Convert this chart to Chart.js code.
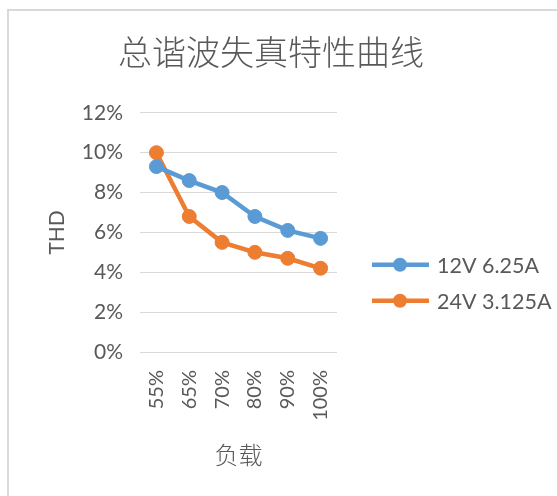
<!DOCTYPE html>
<html>
<head>
<meta charset="utf-8">
<script src="https://cdn.jsdelivr.net/npm/chart.js@4"></script>
<style>
  html, body { margin: 0; padding: 0; background: #fff; }
  #wrap { position: relative; width: 557px; height: 496px; overflow: hidden; }
  #frame { position: absolute; left: 7px; top: 9px; width: 600px; height: 600px;
           border-left: 2px solid #d9d9d9; border-top: 2px solid #d9d9d9; }
  #c { position: absolute; left: 0; top: 0; }
</style>
</head>
<body>
<div id="wrap">
  <div id="frame"></div>
  <canvas id="c" width="557" height="496"></canvas>
</div>
<script>
const categories = ['55%', '65%', '70%', '80%', '90%', '100%'];
const series12V = [9.3, 8.6, 8.0, 6.8, 6.1, 5.7];
const series24V = [10.0, 6.8, 5.5, 5.0, 4.7, 4.2];
const seriesLabels = ['12V 6.25A', '24V 3.125A'];
const seriesColors = ['#5B9BD5', '#ED7D31'];
const yTicks = [0, 2, 4, 6, 8, 10, 12];
const chartTitle = '总谐波失真特性曲线';
const xTitle = '负载';
const yTitle = 'THD';

const FONT = "Lato, 'Noto Sans CJK SC', sans-serif";
const CJK = "'Noto Sans CJK SC', sans-serif";
const TXT = '#595959';

function makeDataset(label, data, color) {
  return {
    label, data,
    borderColor: color, backgroundColor: color,
    pointBackgroundColor: color, pointBorderColor: color,
    borderWidth: 4.5, pointRadius: 7, pointHoverRadius: 7, pointBorderWidth: 1,
    tension: 0, yAxisID: 'y'
  };
}

const legendPlugin = {
  id: 'sideLegend',
  afterDraw(chart) {
    const ctx = chart.ctx;
    const a = chart.chartArea;
    ctx.save();
    chart.data.datasets.forEach((ds, i) => {
      const y = a.top + 152 + i * 36;
      const x0 = a.right + 35;
      ctx.strokeStyle = ds.borderColor;
      ctx.lineWidth = 4.5;
      ctx.beginPath();
      ctx.moveTo(x0, y);
      ctx.lineTo(x0 + 57, y);
      ctx.stroke();
      ctx.fillStyle = ds.borderColor;
      ctx.beginPath();
      ctx.arc(x0 + 28, y, 7, 0, Math.PI * 2);
      ctx.fill();
      ctx.fillStyle = TXT;
      ctx.font = "21.5px " + FONT;
      ctx.textBaseline = 'middle';
      ctx.textAlign = 'left';
      ctx.fillText(ds.label, x0 + 65, y + 1);
    });
    ctx.restore();
  }
};

new Chart(document.getElementById('c'), {
  type: 'line',
  data: {
    labels: categories,
    datasets: [
      makeDataset(seriesLabels[0], series12V, seriesColors[0]),
      makeDataset(seriesLabels[1], series24V, seriesColors[1])
    ]
  },
  options: {
    responsive: false,
    animation: false,
    events: [],
    layout: { padding: { left: 0, right: 15, top: 0, bottom: 0 } },
    plugins: {
      legend: { display: false },
      tooltip: { enabled: false },
      title: {
        display: true,
        text: chartTitle,
        color: TXT,
        font: { family: CJK, size: 34, weight: '300' },
        padding: { top: 32, bottom: 40 }
      }
    },
    scales: {
      x: {
        offset: true,
        grid: { display: false, drawTicks: false },
        border: { display: false },
        ticks: { color: TXT, font: { family: FONT, size: 20 }, minRotation: 90, maxRotation: 90, padding: 18 },
        title: { display: true, text: xTitle, color: TXT, font: { family: CJK, size: 24, weight: '300' }, padding: { top: 0, bottom: 27 } },
        afterFit(s) { s.height = 144; }
      },
      y: {
        min: 0, max: 12,
        afterBuildTicks(s) { s.ticks = yTicks.map(v => ({ value: v })); },
        grid: { color: '#d9d9d9', lineWidth: 1, drawTicks: false },
        border: { display: false },
        ticks: { color: TXT, font: { family: FONT, size: 21 }, padding: 17, callback: v => v + '%' },
        title: { display: true, text: yTitle, color: TXT, font: { family: FONT, size: 21 }, padding: { top: 45, bottom: 0 } },
        afterFit(s) { s.width = 140; }
      },
      yR: {
        position: 'right',
        display: true,
        grid: { display: false, drawTicks: false },
        border: { display: false },
        ticks: { display: false },
        afterFit(s) { s.width = 205; }
      }
    }
  },
  plugins: [legendPlugin]
});
</script>
</body>
</html>
